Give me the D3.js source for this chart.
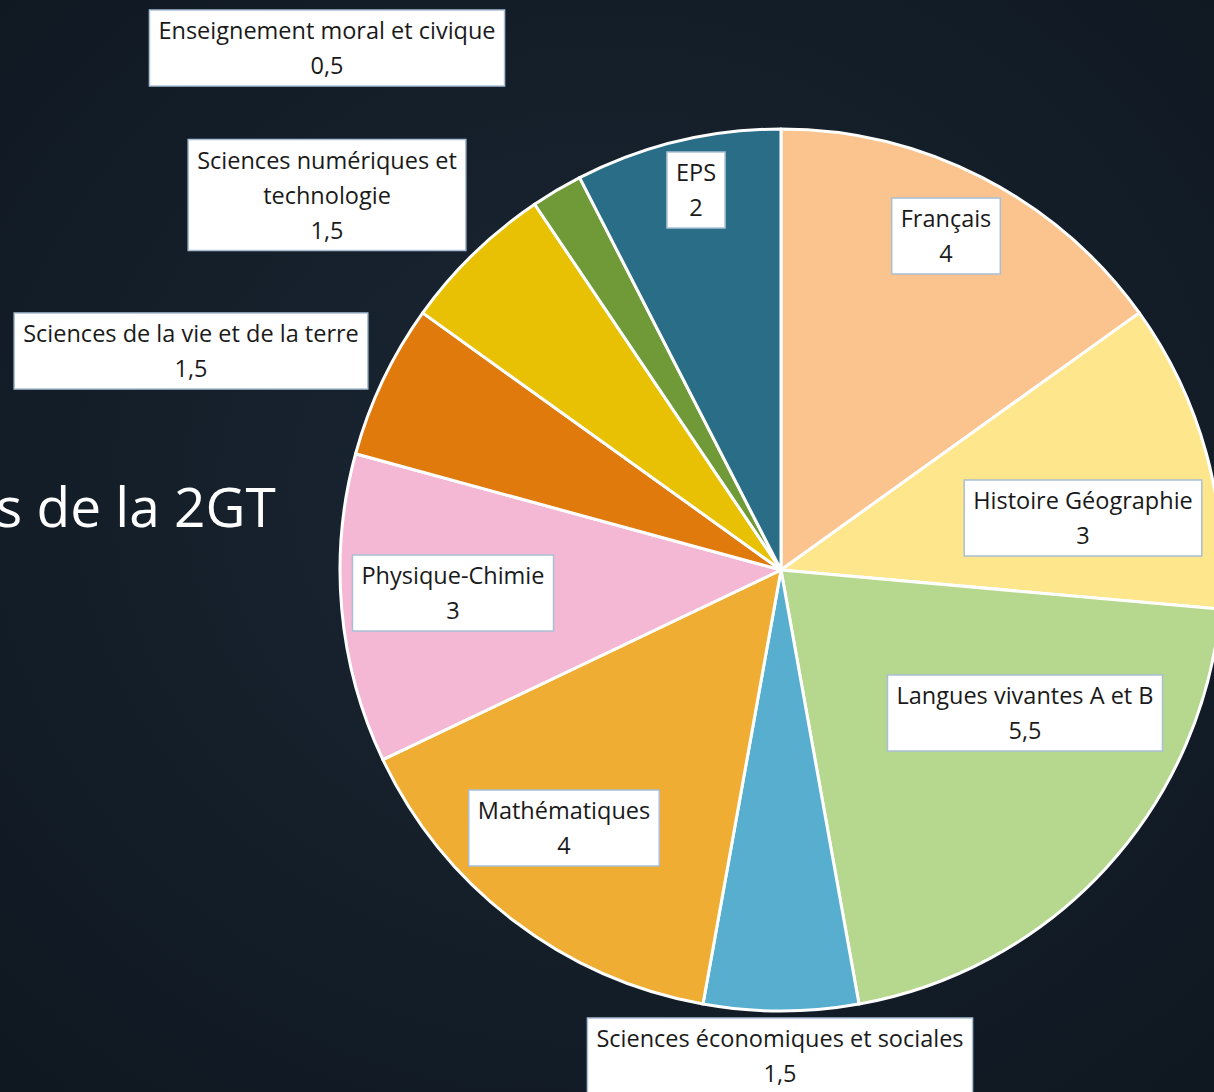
<!DOCTYPE html>
<html>
<head>
<meta charset="utf-8">
<script src="https://cdn.jsdelivr.net/npm/d3@7"></script>
<style>
  html, body { margin: 0; padding: 0; background: #111923; overflow: hidden; }
</style>
</head>
<body>
<script>
const subjects = ["Français", "Histoire Géographie", "Langues vivantes A et B", "Sciences économiques et sociales",
  "Mathématiques", "Physique-Chimie", "Sciences de la vie et de la terre", "Sciences numériques et technologie",
  "Enseignement moral et civique", "EPS"];
const hours = [4, 3, 5.5, 1.5, 4, 3, 1.5, 1.5, 0.5, 2];
const hourLabels = ["4", "3", "5,5", "1,5", "4", "3", "1,5", "1,5", "0,5", "2"];
const colors = ["#fbc48e", "#fde68b", "#b5d78e", "#58aecf", "#efad33", "#f4b8d5", "#e07a0c", "#e8c104", "#6f9a37", "#2a6d86"];
// label lines (Excel wrapped one of them)
const labelLines = [["Français"], ["Histoire Géographie"], ["Langues vivantes A et B"], ["Sciences économiques et sociales"],
  ["Mathématiques"], ["Physique-Chimie"], ["Sciences de la vie et de la terre"], ["Sciences numériques et", "technologie"],
  ["Enseignement moral et civique"], ["EPS"]];
// label box centres, as dragged in the original
const labelCenters = [[946, 236], [1083, 518], [1025, 713], [780, 1056], [564, 828], [453, 593], [191, 351], [327, 195], [327, 48], [696, 190]];

const width = 1214, height = 1092;
const cx = 781, cy = 570, radius = 441;

const svg = d3.select("body").append("svg")
  .attr("width", width)
  .attr("height", height)
  .style("display", "block");

const defs = svg.append("defs");
const grad = defs.append("radialGradient").attr("id", "bg").attr("cx", "50%").attr("cy", "45%").attr("r", "75%");
grad.append("stop").attr("offset", "0%").attr("stop-color", "#1a2734");
grad.append("stop").attr("offset", "100%").attr("stop-color", "#0f1720");

svg.append("rect").attr("width", width).attr("height", height).attr("fill", "url(#bg)");

// slide title, cut by the left edge
svg.append("text")
  .attr("x", -4)
  .attr("y", 527)
  .attr("font-family", "'Open Sans', sans-serif")
  .attr("font-size", "55px")
  .attr("fill", "#ffffff")
  .text("s de la 2GT");

const pie = d3.pie().sort(null).value(d => d);
const arc = d3.arc().innerRadius(0).outerRadius(radius);

const g = svg.append("g").attr("transform", `translate(${cx},${cy})`);

g.selectAll("path")
  .data(pie(hours))
  .join("path")
  .attr("d", arc)
  .attr("fill", (d, i) => colors[i])
  .attr("stroke", "#ffffff")
  .attr("stroke-width", 3)
  .attr("stroke-linejoin", "round");

// data labels
const lineH = 35;
const labels = svg.append("g")
  .attr("font-family", "'Open Sans', sans-serif")
  .attr("font-size", "23.5px")
  .attr("fill", "#1a1a1a");

subjects.forEach((s, i) => {
  const lines = [...labelLines[i], hourLabels[i]];
  const [lx, ly] = labelCenters[i];
  const grp = labels.append("g");
  const box = grp.append("rect");
  const top = ly - lines.length * lineH / 2;
  let maxW = 0;
  lines.forEach((t, j) => {
    const txt = grp.append("text")
      .attr("x", lx)
      .attr("y", top + j * lineH + lineH / 2)
      .attr("dy", "0.38em")
      .attr("text-anchor", "middle")
      .text(t);
    maxW = Math.max(maxW, txt.node().getComputedTextLength());
  });
  const pad = 9;
  box.attr("x", lx - maxW / 2 - pad)
    .attr("y", top - 3)
    .attr("width", maxW + pad * 2)
    .attr("height", lines.length * lineH + 6)
    .attr("fill", "#ffffff")
    .attr("stroke", "#a9bfd4")
    .attr("stroke-width", 1.5);
});
</script>
</body>
</html>
